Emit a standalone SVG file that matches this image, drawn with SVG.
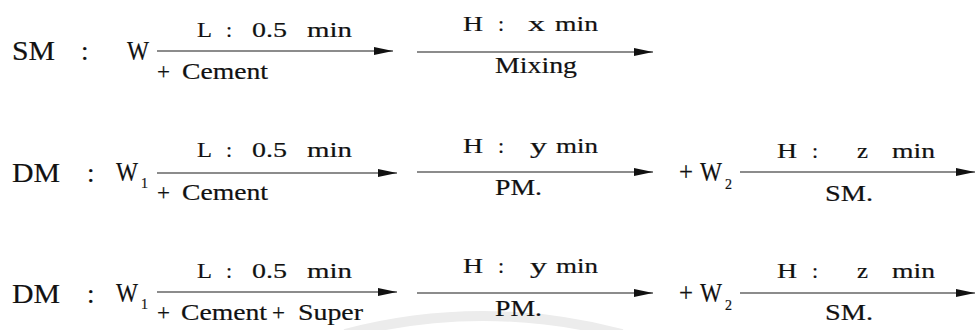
<svg xmlns="http://www.w3.org/2000/svg" width="976" height="330" viewBox="0 0 976 330">
<defs>
<style>
.t{font-family:"Liberation Serif","DejaVu Serif",serif;fill:#111;stroke:#111;stroke-width:0.2}
.big{font-size:27px}
.lab{font-size:22px}
.bot{font-size:24px}
.sub{font-size:14px}
.ln{stroke:#1a1a1a;stroke-width:1.2;fill:none}
</style>
<marker id="ah" markerUnits="userSpaceOnUse" markerWidth="20" markerHeight="10" refX="19" refY="4.5" orient="auto">
<path d="M0,0.5 L19,4.5 L0,8.5 Z" fill="#111"/>
</marker>
</defs>
<rect width="976" height="330" fill="#fff"/>
<path d="M345 334 Q482 298 622 334" stroke="#ececec" stroke-width="10" fill="none"/>

<g id="connectors">
<line class="ln" x1="157" y1="51" x2="393" y2="51" marker-end="url(#ah)"/>
<line class="ln" x1="417" y1="52" x2="653" y2="52" marker-end="url(#ah)"/>
<line class="ln" x1="157" y1="173" x2="397" y2="173" marker-end="url(#ah)"/>
<line class="ln" x1="417" y1="172" x2="653" y2="172" marker-end="url(#ah)"/>
<line class="ln" x1="740" y1="172" x2="975" y2="172" marker-end="url(#ah)"/>
<line class="ln" x1="157" y1="292" x2="397" y2="292" marker-end="url(#ah)"/>
<line class="ln" x1="417" y1="293" x2="653" y2="293" marker-end="url(#ah)"/>
<line class="ln" x1="740" y1="293" x2="975" y2="293" marker-end="url(#ah)"/>
</g>

<!-- Row 1 -->
<g id="r1-head">
<text class="t big" x="12" y="60" textLength="43" lengthAdjust="spacingAndGlyphs">SM</text>
<text class="t big" x="81" y="60">:</text>
</g>
<g id="r1-w">
<text class="t big" x="127" y="60" textLength="22" lengthAdjust="spacingAndGlyphs">W</text>
</g>
<g id="r1-step1">
<text class="t lab" x="197" y="36.5" textLength="15" lengthAdjust="spacingAndGlyphs">L</text>
<text class="t lab" x="226" y="36.5">:</text>
<text class="t lab" x="252" y="36.5" textLength="35" lengthAdjust="spacingAndGlyphs">0.5</text>
<text class="t lab" x="307" y="36.5" textLength="45" lengthAdjust="spacingAndGlyphs">min</text>
<text class="t bot" x="157" y="79" textLength="13" lengthAdjust="spacingAndGlyphs">+</text>
<text class="t bot" x="182" y="79" textLength="86" lengthAdjust="spacingAndGlyphs">Cement</text>
</g>
<g id="r1-step2">
<text class="t lab" x="463" y="31" textLength="20" lengthAdjust="spacingAndGlyphs">H</text>
<text class="t lab" x="498" y="31">:</text>
<text class="t lab" x="528" y="31" textLength="17" lengthAdjust="spacingAndGlyphs">x</text>
<text class="t lab" x="555" y="31" textLength="43" lengthAdjust="spacingAndGlyphs">min</text>
<text class="t bot" x="495" y="73" textLength="82" lengthAdjust="spacingAndGlyphs">Mixing</text>
</g>

<!-- Row 2 -->
<g id="r2-head">
<text class="t big" x="12" y="182" textLength="48" lengthAdjust="spacingAndGlyphs">DM</text>
<text class="t big" x="87" y="182">:</text>
</g>
<g id="r2-w1">
<text class="t big" x="116" y="181" textLength="22" lengthAdjust="spacingAndGlyphs">W</text>
<text class="t sub" x="141" y="188">1</text>
</g>
<g id="r2-step1">
<text class="t lab" x="197" y="157" textLength="15" lengthAdjust="spacingAndGlyphs">L</text>
<text class="t lab" x="226" y="157">:</text>
<text class="t lab" x="252" y="157" textLength="35" lengthAdjust="spacingAndGlyphs">0.5</text>
<text class="t lab" x="307" y="157" textLength="45" lengthAdjust="spacingAndGlyphs">min</text>
<text class="t bot" x="157" y="200" textLength="13" lengthAdjust="spacingAndGlyphs">+</text>
<text class="t bot" x="182" y="200" textLength="86" lengthAdjust="spacingAndGlyphs">Cement</text>
</g>
<g id="r2-step2">
<text class="t lab" x="463" y="153" textLength="20" lengthAdjust="spacingAndGlyphs">H</text>
<text class="t lab" x="498" y="153">:</text>
<text class="t lab" x="530" y="153" textLength="17" lengthAdjust="spacingAndGlyphs">y</text>
<text class="t lab" x="556" y="153" textLength="42" lengthAdjust="spacingAndGlyphs">min</text>
<text class="t bot" x="495" y="195" textLength="47" lengthAdjust="spacingAndGlyphs">PM.</text>
</g>
<g id="r2-w2">
<text class="t big" x="679" y="181" textLength="14" lengthAdjust="spacingAndGlyphs">+</text>
<text class="t big" x="700" y="181" textLength="22" lengthAdjust="spacingAndGlyphs">W</text>
<text class="t sub" x="725" y="189">2</text>
</g>
<g id="r2-step3">
<text class="t lab" x="777" y="158" textLength="20" lengthAdjust="spacingAndGlyphs">H</text>
<text class="t lab" x="812" y="158">:</text>
<text class="t lab" x="857" y="158" textLength="11" lengthAdjust="spacingAndGlyphs">z</text>
<text class="t lab" x="892" y="158" textLength="43" lengthAdjust="spacingAndGlyphs">min</text>
<text class="t bot" x="825" y="201" textLength="48" lengthAdjust="spacingAndGlyphs">SM.</text>
</g>

<!-- Row 3 -->
<g id="r3-head">
<text class="t big" x="12" y="303" textLength="48" lengthAdjust="spacingAndGlyphs">DM</text>
<text class="t big" x="87" y="303">:</text>
</g>
<g id="r3-w1">
<text class="t big" x="116" y="302" textLength="22" lengthAdjust="spacingAndGlyphs">W</text>
<text class="t sub" x="141" y="309">1</text>
</g>
<g id="r3-step1">
<text class="t lab" x="197" y="278" textLength="15" lengthAdjust="spacingAndGlyphs">L</text>
<text class="t lab" x="226" y="278">:</text>
<text class="t lab" x="252" y="278" textLength="35" lengthAdjust="spacingAndGlyphs">0.5</text>
<text class="t lab" x="307" y="278" textLength="45" lengthAdjust="spacingAndGlyphs">min</text>
<text class="t bot" x="157" y="320" textLength="13" lengthAdjust="spacingAndGlyphs">+</text>
<text class="t bot" x="181" y="320" textLength="86" lengthAdjust="spacingAndGlyphs">Cement</text>
<text class="t bot" x="272" y="320" textLength="13" lengthAdjust="spacingAndGlyphs">+</text>
<text class="t bot" x="298" y="320" textLength="65" lengthAdjust="spacingAndGlyphs">Super</text>
</g>
<g id="r3-step2">
<text class="t lab" x="463" y="273" textLength="20" lengthAdjust="spacingAndGlyphs">H</text>
<text class="t lab" x="498" y="273">:</text>
<text class="t lab" x="530" y="273" textLength="17" lengthAdjust="spacingAndGlyphs">y</text>
<text class="t lab" x="556" y="273" textLength="42" lengthAdjust="spacingAndGlyphs">min</text>
<text class="t bot" x="495" y="316" textLength="47" lengthAdjust="spacingAndGlyphs">PM.</text>
</g>
<g id="r3-w2">
<text class="t big" x="679" y="302" textLength="14" lengthAdjust="spacingAndGlyphs">+</text>
<text class="t big" x="700" y="302" textLength="22" lengthAdjust="spacingAndGlyphs">W</text>
<text class="t sub" x="725" y="310">2</text>
</g>
<g id="r3-step3">
<text class="t lab" x="777" y="278" textLength="20" lengthAdjust="spacingAndGlyphs">H</text>
<text class="t lab" x="812" y="278">:</text>
<text class="t lab" x="857" y="278" textLength="11" lengthAdjust="spacingAndGlyphs">z</text>
<text class="t lab" x="892" y="278" textLength="43" lengthAdjust="spacingAndGlyphs">min</text>
<text class="t bot" x="825" y="320" textLength="48" lengthAdjust="spacingAndGlyphs">SM.</text>
</g>
</svg>
